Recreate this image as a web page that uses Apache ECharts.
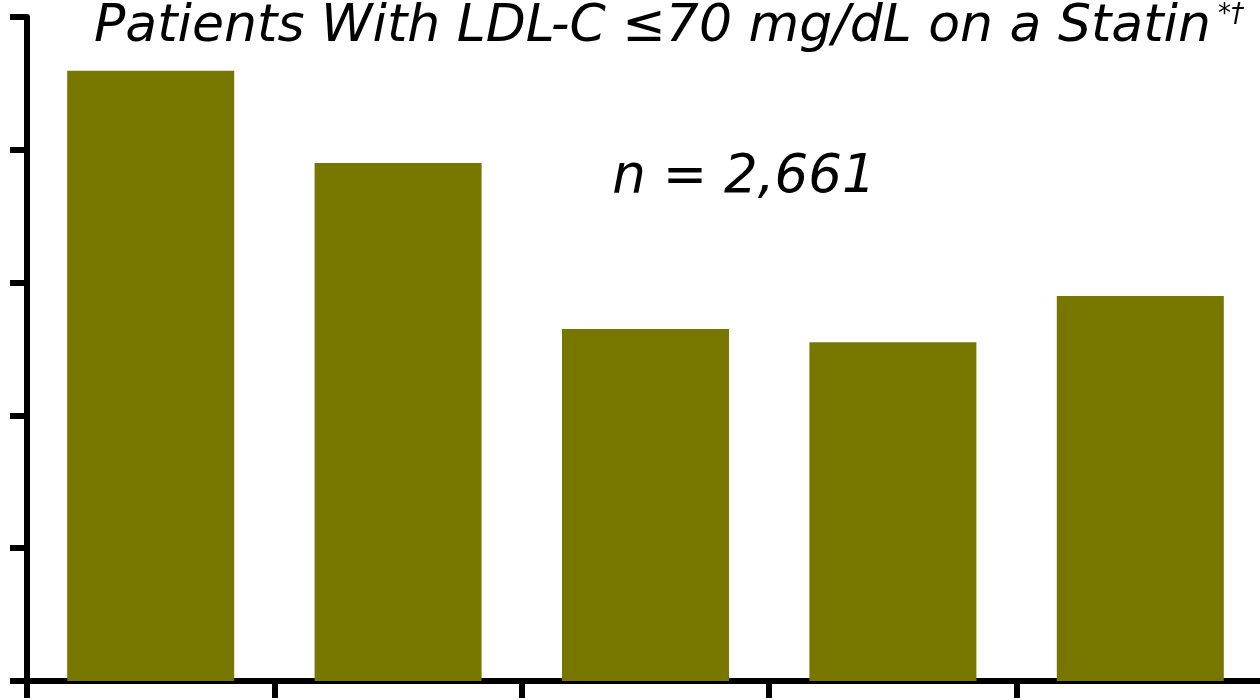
<!DOCTYPE html>
<html>
<head>
<meta charset="utf-8">
<script src="https://cdn.jsdelivr.net/npm/echarts@6/dist/echarts.min.js"></script>
<style>
html,body{margin:0;padding:0;background:#fff;overflow:hidden;}
#chart{width:1264px;height:700px;}
</style>
</head>
<body>
<div id="chart"></div>
<script>
const categories = ['A', 'B', 'C', 'D', 'E'];
const values = [91.9, 78.0, 53.0, 51.0, 58.0];
const titleText = 'Patients With LDL-C \u226470 mg/dL on a Statin';
const titleSup = '*\u2020';
const nText = 'n = 2,661';

const chart = echarts.init(document.getElementById('chart'), null, {renderer: 'canvas'});
chart.setOption({
  animation: false,
  backgroundColor: '#ffffff',
  grid: {left: 27, top: 17, bottom: 19, right: 0, containLabel: false},
  xAxis: {
    type: 'category',
    data: categories,
    boundaryGap: true,
    axisLine: {show: true, lineStyle: {color: '#000', width: 6}},
    axisTick: {show: true, length: 17, alignWithLabel: false, lineStyle: {color: '#000', width: 6}},
    axisLabel: {show: false},
    splitLine: {show: false}
  },
  yAxis: {
    type: 'value',
    min: 0, max: 100, interval: 20,
    axisLine: {show: true, lineStyle: {color: '#000', width: 6}},
    axisTick: {show: true, length: 17, lineStyle: {color: '#000', width: 6}},
    axisLabel: {show: false},
    splitLine: {show: false}
  },
  series: [{
    type: 'bar',
    data: values,
    barWidth: '67.5%',
    itemStyle: {color: '#777700'},
    silent: true
  }],
  graphic: [
    {type: 'text', x: 94, y: 53, silent: true,
     style: {text: titleText, font: 'italic 52px "DejaVu Sans"', fill: '#000', textAlign: 'left', textVerticalAlign: 'bottom'}},
    {type: 'text', x: 1218, y: 28, silent: true,
     style: {text: titleSup, font: 'italic 26px "DejaVu Sans"', fill: '#000', textAlign: 'left', textVerticalAlign: 'bottom'}},
    {type: 'text', x: 744, y: 205, silent: true,
     style: {text: nText, font: 'italic 53px "DejaVu Sans"', fill: '#000', textAlign: 'center', textVerticalAlign: 'bottom'}}
  ]
});
</script>
</body>
</html>
